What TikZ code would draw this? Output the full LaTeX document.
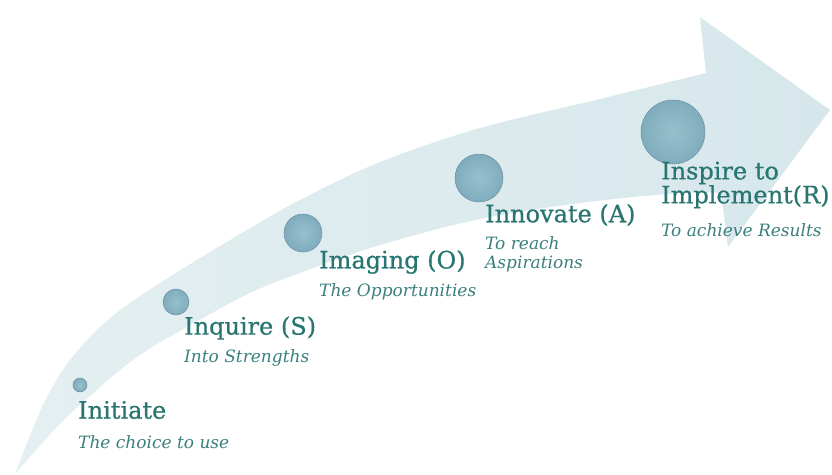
\documentclass[tikz,border=0pt]{standalone}
\usepackage{fontspec}
\setmainfont{DejaVu Serif}
\newfontfamily\headfont[FakeBold=0.7]{DejaVu Serif}
\definecolor{tealA}{HTML}{287571}
\definecolor{tealB}{HTML}{3A7F7C}
\definecolor{bandL}{HTML}{E4EFF1}
\definecolor{bandR}{HTML}{D6E7EB}
\definecolor{dotin}{HTML}{98C0CD}
\definecolor{dotout}{HTML}{7FACBD}
\tikzset{
  titletext/.style={anchor=west, inner sep=0pt, text=tealA, font=\headfont\fontsize{24}{24}\selectfont, align=left},
  subtext/.style={anchor=west, inner sep=0pt, text=tealB, font=\fontsize{17}{19}\selectfont\itshape, align=left},
  stepdot/.style={circle, inner sep=0pt, minimum size=#1, inner color=dotin, outer color=dotout, draw=dotout!85!black, line width=0.5pt}
}
\begin{document}
\begin{tikzpicture}[x=1pt, y=-1pt]
\useasboundingbox (0,0) rectangle (832,474);
% curved arrow band
\shade[left color=bandL, right color=bandR]
  plot[smooth, tension=0.55] coordinates {(15,474) (43,405) (70,360) (110,318) (160,283) (230,240) (300,200) (380,162) (480,128) (600,99) (706,73)}
  -- (700,17) -- (830,110) -- (728,247) -- (721,193)
  -- plot[smooth, tension=0.55] coordinates {(721,193) (680,193) (580,203) (480,219) (380,245) (300,273) (250,293) (187,327) (133,360) (67,417) (15,474)}
  -- cycle;
% dots
\node[stepdot=14pt] (d1) at (80,385) {};
\node[stepdot=26pt] (d2) at (176,302) {};
\node[stepdot=38pt] (d3) at (303,233) {};
\node[stepdot=48pt] (d4) at (479,178) {};
\node[stepdot=64pt] (d5) at (673,132) {};
% labels
\node[titletext] (t1) at (78,410) {Initiate};
\node[subtext] (s1) at (78,442) {The choice to use};
\node[titletext] (t2) at (184,328) {Inquire (S)};
\node[subtext] (s2) at (184,358) {Into Strengths};
\node[titletext] (t3) at (319,262) {Imaging (O)};
\node[subtext] (s3) at (319,292) {The Opportunities};
\node[titletext] (t4) at (485,215) {Innovate (A)};
\node[subtext] (s4) at (485,254) {To reach\\Aspirations};
\node[titletext] (t5) at (661,185) {Inspire to\\Implement(R)};
\node[subtext] (s5) at (661,230) {To achieve Results};
\end{tikzpicture}
\end{document}
